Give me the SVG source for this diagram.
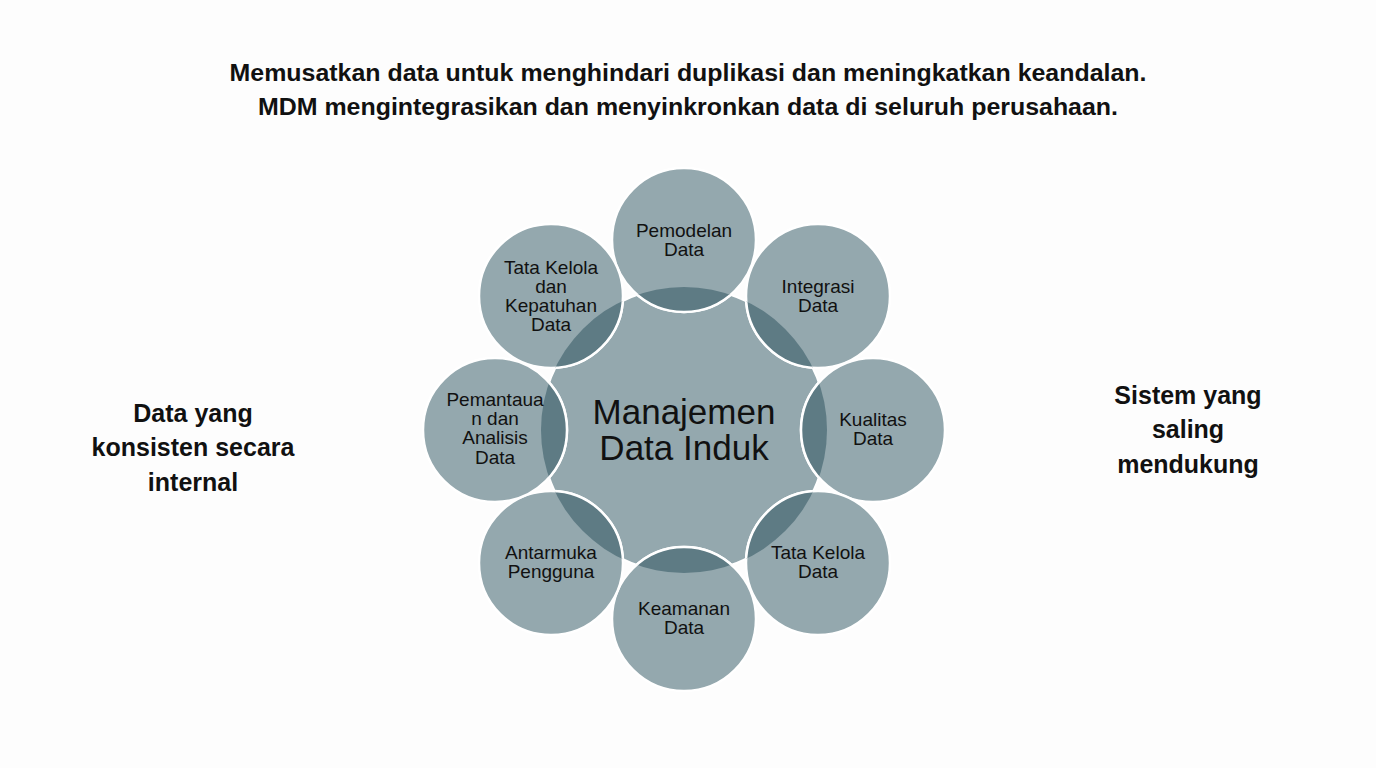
<svg xmlns="http://www.w3.org/2000/svg" width="1376" height="768" viewBox="0 0 1376 768">
  <style>
    .title { font-family: "Liberation Sans", Arial, sans-serif; font-weight: bold; font-size: 23px; fill: #111; text-anchor: middle; }
    .side { font-family: "Liberation Sans", Arial, sans-serif; font-weight: bold; font-size: 25px; fill: #111; text-anchor: middle; }
    .center { font-family: "Liberation Sans", Arial, sans-serif; font-size: 35px; fill: #111; text-anchor: middle; }
    .lbl { font-family: "Liberation Sans", Arial, sans-serif; font-size: 19px; fill: #111; text-anchor: middle; }
    .main { fill: #94a8ae; }
    .outer { fill: #94a8ae; stroke: #ffffff; stroke-width: 2.5; }
    .lens { fill: #5e7b84; stroke: #ffffff; stroke-width: 2.5; }
  </style>
  <defs>
    <clipPath id="centerClip">
      <circle cx="684" cy="430" r="143"/>
    </clipPath>
  </defs>
  <rect width="1376" height="768" fill="#fdfdfd"/>

  <g id="title">
    <text class="title" x="688" y="81" textLength="917" lengthAdjust="spacingAndGlyphs">Memusatkan data untuk menghindari duplikasi dan meningkatkan keandalan.</text>
    <text class="title" x="688" y="115" textLength="860" lengthAdjust="spacingAndGlyphs">MDM mengintegrasikan dan menyinkronkan data di seluruh perusahaan.</text>
  </g>

  <g id="left-label">
    <text class="side" x="193" y="422">Data yang</text>
    <text class="side" x="193" y="456">konsisten secara</text>
    <text class="side" x="193" y="491">internal</text>
  </g>

  <g id="right-label">
    <text class="side" x="1188" y="404">Sistem yang</text>
    <text class="side" x="1188" y="438">saling</text>
    <text class="side" x="1188" y="473">mendukung</text>
  </g>

  <g id="connectors"></g>

  <g id="center-node">
    <circle class="main" cx="684" cy="430" r="143" stroke="#ffffff" stroke-width="2"/>
  </g>

  <g id="outer-circles">
    <circle class="outer" cx="684" cy="240" r="72"/>
    <circle class="outer" cx="818" cy="296" r="72"/>
    <circle class="outer" cx="873" cy="430" r="72"/>
    <circle class="outer" cx="818" cy="563" r="72"/>
    <circle class="outer" cx="684" cy="619" r="72"/>
    <circle class="outer" cx="551" cy="563" r="72"/>
    <circle class="outer" cx="495" cy="430" r="72"/>
    <circle class="outer" cx="551" cy="296" r="72"/>
  </g>

  <g id="overlaps" clip-path="url(#centerClip)">
    <circle class="lens" cx="684" cy="240" r="72"/>
    <circle class="lens" cx="818" cy="296" r="72"/>
    <circle class="lens" cx="873" cy="430" r="72"/>
    <circle class="lens" cx="818" cy="563" r="72"/>
    <circle class="lens" cx="684" cy="619" r="72"/>
    <circle class="lens" cx="551" cy="563" r="72"/>
    <circle class="lens" cx="495" cy="430" r="72"/>
    <circle class="lens" cx="551" cy="296" r="72"/>
  </g>

  <g id="center-label">
    <text class="center" x="684" y="424">Manajemen</text>
    <text class="center" x="684" y="460">Data Induk</text>
  </g>

  <g id="node-pemodelan">
    <text class="lbl" x="684" y="237">Pemodelan</text>
    <text class="lbl" x="684" y="256">Data</text>
  </g>
  <g id="node-integrasi">
    <text class="lbl" x="818" y="293">Integrasi</text>
    <text class="lbl" x="818" y="312">Data</text>
  </g>
  <g id="node-kualitas">
    <text class="lbl" x="873" y="426">Kualitas</text>
    <text class="lbl" x="873" y="445">Data</text>
  </g>
  <g id="node-tata-kelola">
    <text class="lbl" x="818" y="559">Tata Kelola</text>
    <text class="lbl" x="818" y="578">Data</text>
  </g>
  <g id="node-keamanan">
    <text class="lbl" x="684" y="615">Keamanan</text>
    <text class="lbl" x="684" y="634">Data</text>
  </g>
  <g id="node-antarmuka">
    <text class="lbl" x="551" y="559">Antarmuka</text>
    <text class="lbl" x="551" y="578">Pengguna</text>
  </g>
  <g id="node-pemantauan">
    <text class="lbl" x="495" y="406">Pemantaua</text>
    <text class="lbl" x="495" y="425">n dan</text>
    <text class="lbl" x="495" y="444">Analisis</text>
    <text class="lbl" x="495" y="464">Data</text>
  </g>
  <g id="node-kepatuhan">
    <text class="lbl" x="551" y="274">Tata Kelola</text>
    <text class="lbl" x="551" y="293">dan</text>
    <text class="lbl" x="551" y="312">Kepatuhan</text>
    <text class="lbl" x="551" y="331">Data</text>
  </g>
</svg>
